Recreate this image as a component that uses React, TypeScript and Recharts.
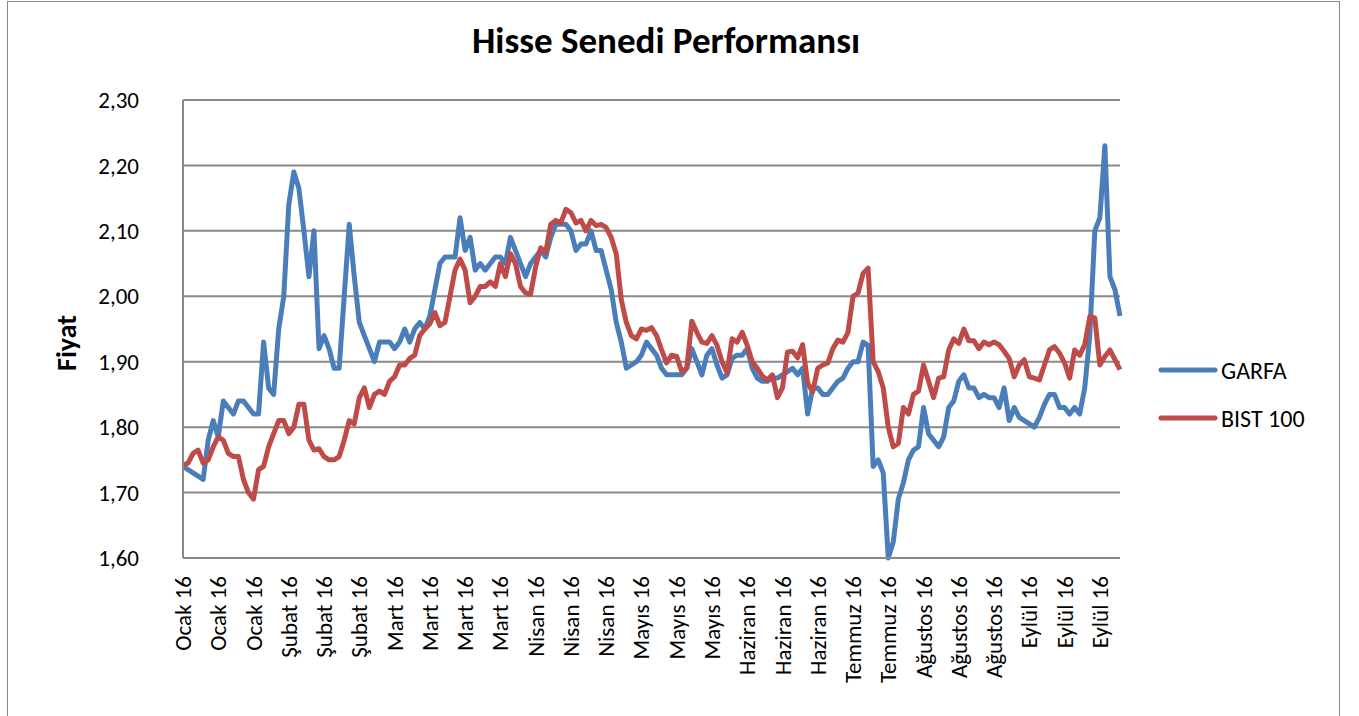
import React from "react";
import { LineChart, Line, XAxis, YAxis, CartesianGrid, Legend } from "recharts";

const months = [
  "Ocak 16",
  "Şubat 16",
  "Mart 16",
  "Nisan 16",
  "Mayıs 16",
  "Haziran 16",
  "Temmuz 16",
  "Ağustos 16",
  "Eylül 16",
];
// trading days per month
const daysPerMonth = [20, 21, 23, 21, 21, 22, 18, 22, 19];

const garfa = [
  1.74, 1.735, 1.73, 1.725, 1.72, 1.78, 1.81, 1.785, 1.84, 1.83,
  1.82, 1.84, 1.84, 1.83, 1.82, 1.82, 1.93, 1.86, 1.85,
  1.95, 2.0, 2.14, 2.19, 2.165, 2.1, 2.03, 2.1, 1.92, 1.94,
  1.92, 1.89, 1.89, 2.0, 2.11, 2.03, 1.96, 1.94, 1.92, 1.9,
  1.93, 1.93, 1.93, 1.92, 1.93, 1.95, 1.93, 1.95, 1.96,
  1.95, 1.97, 2.01, 2.05, 2.06, 2.06, 2.06, 2.12, 2.07, 2.09,
  2.04, 2.05, 2.04, 2.05, 2.06, 2.06, 2.05, 2.09, 2.07, 2.05,
  2.03, 2.05, 2.06, 2.07, 2.06, 2.09, 2.11, 2.11, 2.11, 2.1,
  2.07, 2.08, 2.08, 2.1, 2.07, 2.07, 2.04, 2.01, 1.96,
  1.93, 1.89, 1.895, 1.9, 1.91, 1.93, 1.92, 1.91, 1.89, 1.88,
  1.88, 1.88, 1.88, 1.89, 1.92, 1.9, 1.88, 1.91, 1.92, 1.895,
  1.875, 1.88, 1.905, 1.91, 1.91, 1.92, 1.89, 1.875, 1.87,
  1.87, 1.875, 1.875, 1.88, 1.885, 1.89, 1.88, 1.89, 1.82, 1.86,
  1.86, 1.85, 1.85, 1.86, 1.87, 1.875, 1.89, 1.9, 1.9, 1.93,
  1.925, 1.74, 1.75, 1.73, 1.6, 1.625, 1.69, 1.715, 1.75, 1.765,
  1.77, 1.83, 1.79, 1.78, 1.77, 1.785, 1.83, 1.84, 1.87,
  1.88, 1.86, 1.86, 1.845, 1.85, 1.845, 1.845, 1.83, 1.86, 1.81,
  1.83, 1.815, 1.81, 1.805, 1.8, 1.815, 1.835, 1.85, 1.85, 1.83,
  1.83, 1.82, 1.83, 1.82, 1.86, 1.94, 2.1, 2.12, 2.23,
  2.03, 2.01, 1.97,
];

const bist100 = [
  1.742, 1.745, 1.76, 1.765, 1.745, 1.75, 1.77, 1.785, 1.78, 1.76,
  1.755, 1.755, 1.72, 1.7, 1.69, 1.735, 1.74, 1.77, 1.79,
  1.81, 1.81, 1.79, 1.8, 1.835, 1.835, 1.78, 1.765, 1.767, 1.755,
  1.75, 1.75, 1.755, 1.78, 1.81, 1.805, 1.845, 1.86, 1.83, 1.85,
  1.855, 1.85, 1.87, 1.877, 1.895, 1.895, 1.905, 1.91, 1.94,
  1.95, 1.958, 1.975, 1.955, 1.96, 2.0, 2.04, 2.057, 2.04, 1.99,
  2.0, 2.015, 2.015, 2.022, 2.015, 2.05, 2.03, 2.065, 2.05, 2.015,
  2.005, 2.003, 2.045, 2.074, 2.067, 2.11, 2.116, 2.112, 2.133, 2.128,
  2.112, 2.116, 2.1, 2.116, 2.108, 2.11, 2.105, 2.09, 2.065,
  1.995, 1.96, 1.94, 1.935, 1.95, 1.948, 1.952, 1.94, 1.918, 1.898,
  1.91, 1.908, 1.885, 1.89, 1.962, 1.945, 1.93, 1.928, 1.94, 1.925,
  1.9, 1.883, 1.935, 1.93, 1.945, 1.925, 1.9, 1.89, 1.878,
  1.872, 1.88, 1.845, 1.86, 1.915, 1.916, 1.906, 1.926, 1.867, 1.854,
  1.89, 1.895, 1.898, 1.92, 1.933, 1.93, 1.945, 2.0, 2.005, 2.035,
  2.043, 1.9, 1.885, 1.86, 1.8, 1.77, 1.775, 1.83, 1.82, 1.85,
  1.855, 1.895, 1.87, 1.845, 1.875, 1.877, 1.918, 1.935, 1.928,
  1.95, 1.932, 1.932, 1.92, 1.93, 1.926, 1.93, 1.926, 1.916, 1.905,
  1.877, 1.895, 1.903, 1.877, 1.875, 1.872, 1.895, 1.918, 1.923, 1.913,
  1.898, 1.875, 1.918, 1.91, 1.926, 1.969, 1.967, 1.895, 1.908,
  1.918, 1.903, 1.888,
];

const yTicks = [1.6, 1.7, 1.8, 1.9, 2.0, 2.1, 2.2, 2.3];

const series = [
  { key: "GARFA", color: "#4A7EBB" },
  { key: "BIST 100", color: "#BE4B48" },
];

const labels = months.flatMap((m, k) => Array(daysPerMonth[k]).fill(m));
const data = garfa.map((v, i) => ({
  label: labels[i],
  GARFA: v,
  "BIST 100": bist100[i],
}));

const FONT = "Carlito, Calibri, Lato, sans-serif";

const XTick = ({ x, y, payload }: any) => (
  <text
    x={x}
    y={y}
    transform={`rotate(-90 ${x} ${y})`}
    textAnchor="end"
    dy="0.35em"
    fontSize={23}
    fontFamily={FONT}
    fill="#000"
  >
    {payload.value}
  </text>
);

const renderLegend = () => (
  <div style={{ fontFamily: FONT }}>
    {series.map((s) => (
      <div
        key={s.key}
        style={{ display: "flex", alignItems: "center", height: 48 }}
      >
        <svg width={60} height={10}>
          <line
            x1={3}
            y1={5}
            x2={57}
            y2={5}
            stroke={s.color}
            strokeWidth={5}
            strokeLinecap="round"
          />
        </svg>
        <span style={{ marginLeft: 3, fontSize: 24, color: "#000" }}>
          {s.key}
        </span>
      </div>
    ))}
  </div>
);

export default function App() {
  return (
    <div
      style={{
        position: "absolute",
        left: 7,
        top: 1,
        width: 1331,
        height: 730,
        border: "1px solid #868686",
        background: "#fff",
      }}
    >
      <div
        style={{
          position: "absolute",
          left: 258,
          top: 16,
          width: 800,
          textAlign: "center",
          fontFamily: FONT,
          fontWeight: "bold",
          fontSize: 37,
        }}
      >
        Hisse Senedi Performansı
      </div>
      <div
        style={{
          position: "absolute",
          left: 58,
          top: 341,
          transform: "translate(-50%, -50%) rotate(-90deg)",
          fontFamily: FONT,
          fontWeight: "bold",
          fontSize: 28,
        }}
      >
        Fiyat
      </div>
      <LineChart
        width={1331}
        height={730}
        data={data}
        margin={{ top: 98, right: 219, left: 0, bottom: 14 }}
      >
        <CartesianGrid vertical={false} stroke="#898989" strokeWidth={2} />
        <XAxis
          dataKey="label"
          interval={6}
          height={160}
          tickLine={false}
          tickSize={0}
          tickMargin={18}
          stroke="#898989"
          strokeWidth={2}
          tick={<XTick />}
        />
        <YAxis
          width={175}
          domain={[1.6, 2.3]}
          ticks={yTicks}
          tickLine={false}
          tickSize={0}
          tickMargin={44}
          stroke="#898989"
          strokeWidth={2}
          tickFormatter={(v: number) => v.toFixed(2).replace(".", ",")}
          tick={{ fontSize: 23, fontFamily: FONT, fill: "#000" }}
        />
        <Legend
          layout="vertical"
          verticalAlign="middle"
          align="center"
          wrapperStyle={{ left: 1150, top: 344, width: 180 }}
          content={renderLegend}
        />
        {series.map((s) => (
          <Line
            key={s.key}
            type="linear"
            dataKey={s.key}
            stroke={s.color}
            strokeWidth={5}
            strokeLinejoin="round"
            dot={false}
            activeDot={false}
            isAnimationActive={false}
          />
        ))}
      </LineChart>
    </div>
  );
}
